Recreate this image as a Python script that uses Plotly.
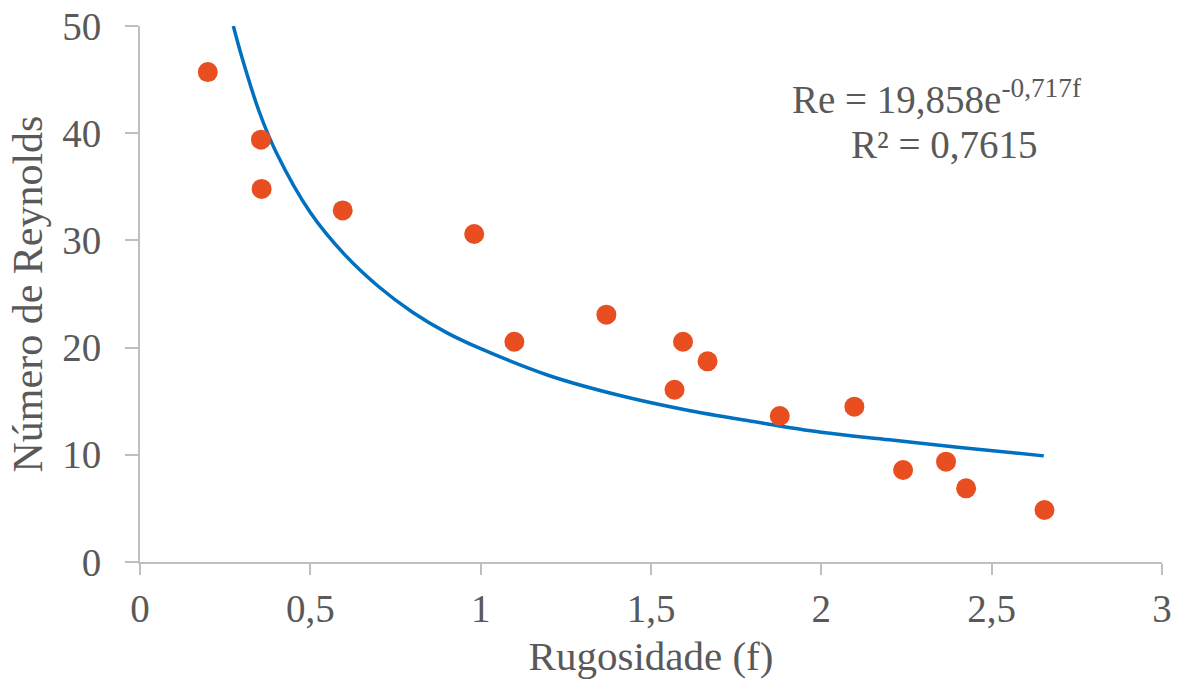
import plotly.graph_objects as go

# Observed data (Rugosidade f, Número de Reynolds)
rugosidade = [0.199, 0.355, 0.357, 0.595, 0.981, 1.099, 1.369, 1.569, 1.594, 1.666,
              1.878, 2.097, 2.240, 2.366, 2.425, 2.655]
reynolds = [45.7, 39.4, 34.8, 32.8, 30.6, 20.55, 23.07, 16.07, 20.55, 18.72,
            13.62, 14.49, 8.58, 9.36, 6.87, 4.85]

# Trend curve
trend_f = [0.274, 0.30, 0.35, 0.40, 0.50, 0.60, 0.70, 0.80, 0.90, 1.00,
           1.20, 1.40, 1.60, 1.80, 2.00, 2.20, 2.40, 2.653]
trend_re = [50.0, 47.0, 42.0, 38.2, 32.6, 28.7, 25.7, 23.3, 21.4, 19.9,
            17.4, 15.6, 14.2, 13.1, 12.1, 11.4, 10.7, 9.9]

x_ticks = [0, 0.5, 1, 1.5, 2, 2.5, 3]
x_ticklabels = ["0", "0,5", "1", "1,5", "2", "2,5", "3"]
y_ticks = [0, 10, 20, 30, 40, 50]
y_ticklabels = ["0", "10", "20", "30", "40", "50"]

FONT = "Liberation Serif"
TXT = "#595959"
AX = "#BFBFBF"

fig = go.Figure()
fig.add_trace(go.Scatter(x=trend_f, y=trend_re, mode="lines",
                         line=dict(color="#0070C0", width=3.5, shape="spline"),
                         showlegend=False, hoverinfo="skip", cliponaxis=False))
fig.add_trace(go.Scatter(x=rugosidade, y=reynolds, mode="markers",
                         marker=dict(color="#E84E1F", size=20, line=dict(width=0)),
                         showlegend=False, cliponaxis=False))

fig.add_annotation(x=2.34, y=43.4, xref="x", yref="y",
                   text="Re = 19,858e<sup>-0,717f</sup>", showarrow=False,
                   font=dict(family=FONT, size=39, color=TXT))
fig.add_annotation(x=2.36, y=38.9, xref="x", yref="y",
                   text="R² = 0,7615", showarrow=False,
                   font=dict(family=FONT, size=39, color=TXT))

fig.update_layout(
    width=1180, height=688,
    margin=dict(l=140, r=18, t=26, b=126, autoexpand=False),
    plot_bgcolor="white", paper_bgcolor="white",
    font=dict(family=FONT, color=TXT, size=39),
    xaxis=dict(range=[0, 3], tickvals=x_ticks, ticktext=x_ticklabels, automargin=False,
               showgrid=False, zeroline=False, showline=True, linecolor=AX, linewidth=2,
               ticks="outside", ticklen=11, tickcolor=AX, tickwidth=2,
               tickfont=dict(family=FONT, size=39, color=TXT),
               title=dict(text="Rugosidade (f)", font=dict(family=FONT, size=41, color=TXT), standoff=13)),
    yaxis=dict(range=[0, 50], tickvals=y_ticks, ticktext=y_ticklabels, automargin=False,
               ticklabeloverflow="allow", ticklabelstandoff=16,
               showgrid=False, zeroline=False, showline=True, linecolor=AX, linewidth=2,
               ticks="outside", ticklen=13, tickcolor=AX, tickwidth=2,
               tickfont=dict(family=FONT, size=39, color=TXT),
               title=dict(text="Número de Reynolds", font=dict(family=FONT, size=42, color=TXT), standoff=7)),
)

fig.write_html("out.html", config={"displayModeBar": False},
               post_script="document.body.style.margin='0';")
